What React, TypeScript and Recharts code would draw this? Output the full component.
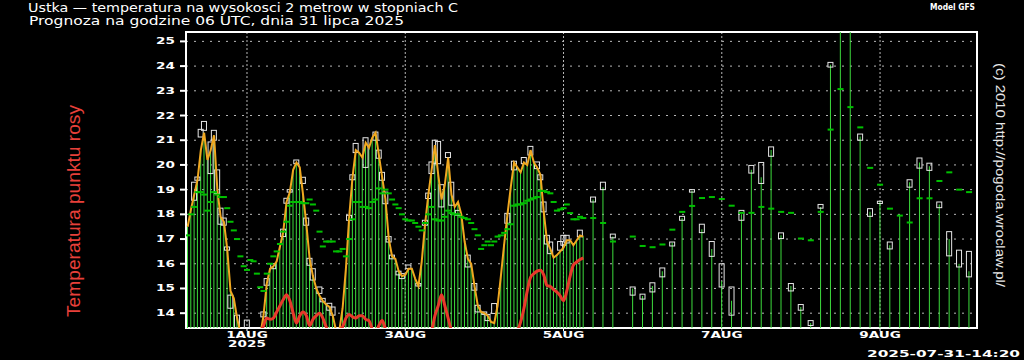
import React from 'react';
import {
  ComposedChart, Bar, Line, Scatter, XAxis, YAxis, CartesianGrid, ReferenceArea,
} from 'recharts';

// forecast hours counted from 31 Jul 00 UTC
const HOURLY_START = 6;
const THREE_H_START = 129;

// hourly 2 m temperature, 06 UTC 31 Jul .. 06 UTC 5 Aug
const TEMP_H = [
  17.5, 18.2, 18.8, 19.4, 20.6, 21.3, 20.2, 20.6, 21.2, 19.0, 17.9, 17.7,
  16.6, 14.9, 14.6, 13.8, 13.2, 13.0, 12.9, 12.8, 12.8, 12.9, 13.1, 13.9,
  15.2, 15.8, 15.9, 16.1, 16.7, 17.3, 18.5, 18.9, 19.8, 20.1, 19.9, 18.8,
  17.6, 16.2, 15.5, 15.0, 14.7, 14.5, 14.35, 14.25, 13.9, 13.3, 13.3, 14.2,
  15.8, 17.9, 19.5, 20.6, 20.5, 20.3, 20.9, 20.7, 21.1, 21.3, 20.4, 19.5,
  18.6, 17.0, 16.3, 16.2, 15.7, 15.5, 15.55, 15.8, 15.8, 15.4, 15.1, 16.1,
  17.6, 18.8, 19.8, 20.8, 19.6, 18.6, 19.2, 20.3, 18.8, 18.3, 18.5, 18.0,
  16.9, 16.2, 16.0, 15.1, 14.3, 14.05, 14.0, 13.9, 13.65, 13.6, 14.3, 15.5,
  16.8, 18.0, 19.1, 20.1, 19.9, 19.7, 20.1, 20.0, 20.6, 20.1, 19.9, 19.6,
  18.1, 16.9, 16.6, 16.25, 16.35, 16.5, 16.65, 16.95, 16.95, 16.75, 16.95, 17.15,
  17.1,
];

// hourly dew point (temperatura punktu rosy)
const DEW_H = [
  13.0, 12.9, 12.8, 12.7, 12.6, 12.6, 12.7, 12.8, 12.8, 12.9, 13.0, 13.0,
  12.9, 12.8, 12.7, 12.6, 12.6, 12.5, 12.5, 12.6, 12.8, 13.0, 13.2, 13.5,
  13.8, 13.75, 13.8, 14.05, 14.3, 14.55, 14.75, 14.5, 14.0, 13.6, 13.9, 14.05,
  13.9, 13.5, 13.75, 13.9, 14.0, 13.8, 13.45, 13.2, 13.1, 13.2, 13.3, 13.45,
  13.8, 13.95, 13.85, 13.8, 13.9, 13.9, 13.75, 13.7, 13.35, 13.2, 13.5, 13.7,
  13.35, 13.1, 13.0, 12.9, 12.8, 12.7, 12.6, 12.5, 12.5, 12.6, 12.7, 12.9,
  13.0, 13.1, 13.3, 13.9, 14.3, 14.75, 14.3, 13.8, 13.3, 13.1, 13.0, 12.9,
  12.8, 12.7, 12.6, 12.5, 12.4, 12.4, 12.3, 12.3, 12.4, 12.5, 12.6, 12.8,
  12.9, 13.0, 13.1, 13.2, 13.3, 13.65, 14.2, 14.9, 15.45, 15.6, 15.7, 15.74,
  15.55, 15.12, 15.08, 14.95, 14.85, 14.7, 14.5, 14.9, 15.5, 15.95, 16.07, 16.17,
  16.24,
];

// green dash marks, hourly part
const DASH_H = [
  17.15, 18.0, 18.3, 18.9, 18.9, 18.8, 18.15, 18.5, 18.9, 18.8, 18.7, 18.7,
  18.25, 17.7, 17.35, 17.0, 16.3, 15.9, 15.75, 16.15, 16.1, 15.6, 15.05, 14.9,
  15.6, 16.0, 16.3, 16.5, 16.8, 17.3, 17.7, 18.35, 18.5, 18.5, 18.5, 18.45,
  18.45, 18.6, 18.4, 18.15, 17.3, 16.7, 16.9, 16.9, 16.9, 16.5, 16.5, 16.6,
  16.3, 17.0, 17.8, 18.5, 18.5, 18.3, 18.3, 18.25, 18.5, 18.6, 19.05, 18.85,
  19.0, 18.85, 18.6, 18.4, 18.25, 18.0, 17.8, 17.75, 17.75, 17.65, 17.5, 17.35,
  17.65, 18.0, 18.3, 17.8, 17.75, 17.75, 17.9, 18.15, 18.05, 18.0, 18.0, 17.9,
  17.85, 17.8, 17.65, 17.4, 17.15, 16.6, 16.75, 16.9, 16.75, 16.9, 17.1, 17.15,
  17.25, 17.4, 17.6, 18.35, 18.4, 18.4, 18.45, 18.55, 18.6, 18.65, 18.7, 18.95,
  18.95, 18.9, 18.85, 18.5, 18.15, 18.2, 18.25, 18.4, 18.05, 17.8, 17.8, 17.9,
  17.85,
];

// [hour, low, high] of the white boxes in the hourly part
const HOURLY_BOXES = [
  [8, 18.57, 19.3], [9, 19.38, 19.51], [10, 21.13, 21.44], [11, 21.4, 21.76],
  [13, 19.65, 20.93], [14, 21.0, 21.4], [15, 18.84, 19.8], [16, 17.6, 18.25],
  [17, 17.56, 17.85], [18, 16.55, 16.68], [19, 14.2, 14.73], [21, 13.4, 13.92],
  [24, 13.35, 13.72], [29, 13.85, 14.05], [30, 15.13, 15.4], [32, 15.8, 16.0],
  [35, 17.1, 17.4], [36, 18.45, 18.65], [37, 18.9, 19.0], [39, 20.05, 20.2],
  [41, 19.25, 19.5], [42, 17.56, 17.85], [43, 15.94, 16.22], [44, 15.34, 15.8],
  [46, 14.8, 15.06], [47, 14.46, 14.6], [49, 14.12, 14.4], [50, 13.92, 14.25],
  [55, 17.76, 17.96], [56, 19.4, 19.6], [57, 20.5, 20.87], [60, 19.9, 21.1],
  [63, 21.0, 21.33], [64, 20.27, 20.6], [65, 19.38, 19.7], [66, 18.43, 18.9],
  [67, 16.88, 17.1], [68, 16.2, 16.35], [70, 15.55, 15.7], [71, 15.4, 15.6],
  [73, 15.8, 15.95], [76, 15.1, 15.2], [78, 17.56, 17.76], [79, 18.64, 18.86],
  [80, 19.65, 20.12], [81, 20.05, 21.0], [82, 20.05, 20.95], [83, 18.3, 19.2],
  [85, 20.3, 20.5], [86, 18.37, 19.3], [88, 17.96, 18.16], [91, 15.87, 16.35],
  [93, 14.93, 15.2], [94, 14.05, 14.32], [96, 13.95, 14.05], [97, 13.7, 13.95],
  [99, 13.99, 14.39], [103, 17.64, 18.04], [105, 19.8, 20.15], [108, 20.05, 20.3],
  [110, 20.4, 20.75], [112, 19.85, 20.12], [113, 19.4, 19.6], [114, 18.1, 18.5],
  [115, 16.8, 17.15], [116, 16.41, 16.88], [119, 16.55, 16.9], [120, 16.75, 17.15],
  [121, 16.84, 17.15], [125, 17.09, 17.36],
];

// 3-hourly part, 09 UTC 5 Aug .. 03 UTC 10 Aug
const TEMP_3 = [
  18.6, 19.1, 17.1, 13.2, 15.0, 14.7, 15.1, 15.7, 16.85, 17.85, 18.95, 17.4, 16.6,
  15.3, 14.5, 18.0, 19.8, 19.5, 20.6, 17.15, 15.1, 14.25, 13.6, 18.3, 24.05, 26.8,
  26.0, 21.15, 18.1, 18.5, 16.75, 17.95, 19.3, 20.1, 19.95, 18.4, 17.0, 16.0, 15.7,
];
const BOX_LO_3 = [
  18.5, 19.0, 17.05, null, 14.73, 14.57, 14.86, 15.47, 16.72, 17.76, 18.9, 17.26, 16.3,
  15.06, 13.92, 17.76, 19.67, 19.25, 20.35, 17.02, 14.9, 14.12, 13.5, 18.25, 23.96, null,
  null, 21.0, 17.92, 18.44, 16.6, null, 19.1, 19.87, 19.78, 18.27, 16.32, 15.87, 15.47,
];
const BOX_HI_3 = [
  18.7, 19.3, 17.2, null, 15.06, 14.77, 15.23, 15.83, 16.88, 17.92, 19.0, 17.6, 16.9,
  16.0, 15.06, 18.16, 19.98, 20.1, 20.73, 17.25, 15.2, 14.35, 13.7, 18.4, 24.15, null,
  null, 21.25, 18.23, 18.53, 16.88, null, 19.4, 20.28, 20.07, 18.5, 17.3, 16.55, 16.5,
];
const DASH_3 = [
  17.85, 17.65, 16.9, null, 17.1, 16.72, 16.67, 16.78, 17.38, 18.1, 18.34, 18.66, 18.7,
  18.62, 18.35, 18.06, 18.06, 18.3, 18.23, 18.1, 18.06, 17.02, 16.95, 18.1, 21.43, 23.07,
  22.34, 21.52, 19.88, 19.2, 18.23, 17.95, 17.67, 18.65, 18.65, 19.35, 19.7, 19.0, 18.9,
];

const TICK_HOURS = [24, 72, 120, 168, 216];
const TICK_LABELS = ['1AUG', '3AUG', '5AUG', '7AUG', '9AUG'];
const Y_TICKS = [14, 15, 16, 17, 18, 19, 20, 21, 22, 23, 24, 25];

const boxByHour: Record<number, [number, number]> = {};
HOURLY_BOXES.forEach(([h, lo, hi]) => { boxByHour[h] = [lo, hi]; });

const rows: any[] = [];
TEMP_H.forEach((t, i) => {
  const h = HOURLY_START + i;
  rows.push({ h, t, tl: t, dp: DEW_H[i], dash: DASH_H[i], box: boxByHour[h] });
});
TEMP_3.forEach((t, i) => {
  const h = THREE_H_START + 3 * i;
  const box = BOX_LO_3[i] != null ? [BOX_LO_3[i], BOX_HI_3[i]] : undefined;
  rows.push({ h, t, dash: DASH_3[i], box });
});
const dashRows = rows.filter((r) => r.dash != null);

const PIXEL_FONT = '"DejaVu Sans", sans-serif';

const YTick = ({ x, y, payload }: any) => (
  <g transform={`translate(${x},${y})`}>
    <text transform="scale(1.7,1)" textAnchor="end" dy={3} fill="#fff"
      fontFamily={PIXEL_FONT} fontWeight="bold" fontSize={8}>
      {payload.value}
    </text>
  </g>
);

const XTick = ({ x, y, payload }: any) => {
  const i = TICK_HOURS.indexOf(payload.value);
  return (
    <g transform={`translate(${x},${y})`}>
      <text transform="scale(1.7,1)" textAnchor="middle" y={5} fill="#fff"
        fontFamily={PIXEL_FONT} fontWeight="bold" fontSize={8}>
        {TICK_LABELS[i]}
      </text>
      {i === 0 && (
        <text transform="scale(1.7,1)" textAnchor="middle" y={14} fill="#fff"
          fontFamily={PIXEL_FONT} fontWeight="bold" fontSize={8}>
          2025
        </text>
      )}
    </g>
  );
};

const BoxShape = (props: any) => {
  const { x, y, width, height } = props;
  if (x == null || y == null || isNaN(y) || isNaN(height)) return null;
  const cx = x + width / 2;
  const top = Math.min(y, y + height);
  const h = Math.max(Math.abs(height), 2);
  return <rect x={cx - 2.5} y={top} width={5} height={h} fill="none" stroke="#e6e6e6" strokeWidth={1} />;
};

const DashShape = (props: any) => {
  const { cx, cy } = props;
  if (cx == null || cy == null || isNaN(cy)) return null;
  return <rect x={cx - 3} y={cy - 1} width={6} height={2} fill="#00c000" />;
};

export default function App() {
  return (
    <div style={{ position: 'absolute', left: 0, top: 0, width: 1024, height: 360, background: '#000' }}>
      <ComposedChart width={1024} height={360} data={rows}
        margin={{ top: 32, right: 47, bottom: 2, left: 0 }}>
        <CartesianGrid xAxisId="main" horizontal vertical={false} stroke="#b8b8b8" strokeDasharray="2 6" />
        <CartesianGrid xAxisId="main" horizontal={false} vertical stroke="#b8b8b8" strokeDasharray="2 2" />
        <XAxis xAxisId="main" dataKey="h" type="number" domain={[5.5, 245.4]} allowDataOverflow
          ticks={TICK_HOURS} tick={<XTick />} tickSize={3} tickMargin={2}
          axisLine={false} tickLine={{ stroke: '#fff' }} height={30} interval={0} />
        <XAxis xAxisId="box" orientation="top" dataKey="h" type="number" domain={[5.5, 245.4]}
          allowDataOverflow hide />
        <YAxis yAxisId={0} type="number" domain={[13.4, 25.38]} allowDataOverflow ticks={Y_TICKS}
          tick={<YTick />} tickSize={6} tickMargin={5} width={186}
          axisLine={false} tickLine={{ stroke: '#fff', strokeWidth: 2 }} interval={0} />
        <Bar xAxisId="main" dataKey="t" barSize={1} fill="#3ddc3d" isAnimationActive={false} />
        <Scatter xAxisId="main" data={dashRows} dataKey="dash" shape={<DashShape />} isAnimationActive={false} />
        <Line xAxisId="main" dataKey="tl" type="linear" stroke="#f0a820" strokeWidth={2}
          dot={false} isAnimationActive={false} />
        <Bar xAxisId="box" dataKey="box" barSize={5} shape={<BoxShape />} isAnimationActive={false} />
        <Line xAxisId="main" dataKey="dp" type="monotone" stroke="#e8392b" strokeWidth={3}
          dot={false} isAnimationActive={false} />
        <ReferenceArea xAxisId="main" x1={5.5} x2={245.4} y1={13.4} y2={25.38}
          fill="none" stroke="#fff" strokeWidth={2} />
      </ComposedChart>
      <svg width={1024} height={360} style={{ position: 'absolute', left: 0, top: 0, pointerEvents: 'none' }}>
        <text x={28} y={12} fill="#fff" fontFamily='"DejaVu Sans", sans-serif' fontSize={12}
          textLength={430} lengthAdjust="spacingAndGlyphs">
          Ustka — temperatura na wysokosci 2 metrow w stopniach C
        </text>
        <text x={29} y={25} fill="#fff" fontFamily='"DejaVu Sans", sans-serif' fontSize={12}
          textLength={375} lengthAdjust="spacingAndGlyphs">
          Prognoza na godzine 06 UTC, dnia 31 lipca 2025
        </text>
        <text x={930} y={10} fill="#fff" fontFamily={PIXEL_FONT} fontWeight="bold" fontSize={8}
          textLength={45} lengthAdjust="spacingAndGlyphs">
          Model GFS
        </text>
        <text x={867} y={357} fill="#fff" fontFamily={PIXEL_FONT} fontWeight="bold" fontSize={8}
          textLength={153} lengthAdjust="spacingAndGlyphs">
          2025-07-31-14:20
        </text>
        <text transform="translate(1000,175) rotate(90)" textAnchor="middle" dominantBaseline="central"
          fill="#e8e8e8" fontFamily='"Liberation Sans", sans-serif' fontSize={13}
          textLength={224} lengthAdjust="spacingAndGlyphs">
          (c) 2010 http://pogoda.wroclaw.pl/
        </text>
        <text transform="translate(74,211) rotate(-90)" textAnchor="middle" dominantBaseline="central"
          fill="#e8403a" fontFamily='"Liberation Sans", sans-serif' fontSize={18}
          textLength={212} lengthAdjust="spacingAndGlyphs">
          Temperatura punktu rosy
        </text>
      </svg>
    </div>
  );
}
